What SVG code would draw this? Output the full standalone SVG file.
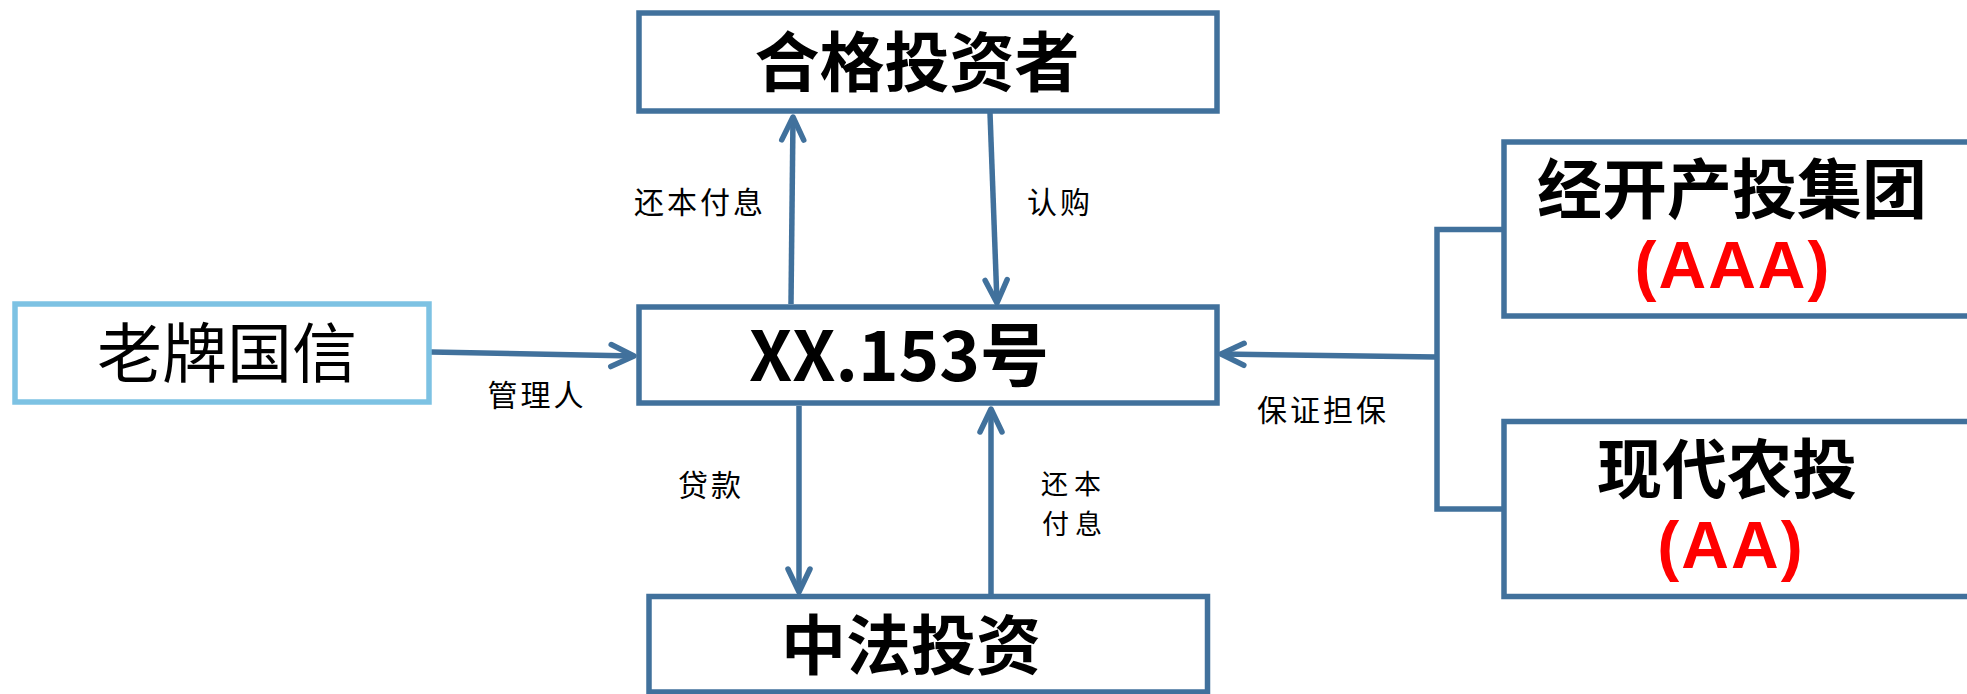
<svg xmlns="http://www.w3.org/2000/svg" width="1967" height="694" viewBox="0 0 1967 694">
<style>
.box{fill:#FFFFFF;stroke:#41719C;stroke-width:5.5}
.lbox{fill:#FFFFFF;stroke:#7DC2E3;stroke-width:5.5}
.big{font-family:"Noto Sans CJK SC","Noto Sans",sans-serif;font-weight:700;font-size:65px;fill:#000000;text-anchor:middle;dominant-baseline:central}
.reg{font-family:"Noto Sans CJK SC","Noto Sans",sans-serif;font-weight:400;font-size:65px;fill:#000000;text-anchor:middle;dominant-baseline:central}
.red{font-family:"Liberation Sans",Arial,sans-serif;font-weight:700;font-size:66px;fill:#FF0000;text-anchor:middle}
.lab{font-family:"Noto Sans CJK SC","Noto Sans",sans-serif;font-weight:400;font-size:30px;fill:#000000;text-anchor:middle;dominant-baseline:central;letter-spacing:3px}
.con{fill:none;stroke:#41719C;stroke-width:5.5}
</style>
<defs>
<marker id="arr" markerUnits="userSpaceOnUse" viewBox="-30 -15 34 30" refX="0" refY="0" markerWidth="34" markerHeight="30" orient="auto" overflow="visible">
<path d="M-23,-11 L0,0 L-23,11" fill="none" stroke="#41719C" stroke-width="5.5" stroke-linecap="round" stroke-linejoin="round"/>
</marker>
</defs>
<g id="connectors">
<line class="con" x1="431" y1="352" x2="634" y2="356" marker-end="url(#arr)" stroke-width="6.5"/>
<line class="con" x1="1437" y1="357" x2="1221" y2="354" marker-end="url(#arr)"/>
<line class="con" x1="791" y1="304" x2="793" y2="117" marker-end="url(#arr)"/>
<line class="con" x1="990" y1="113" x2="997" y2="303" marker-end="url(#arr)"/>
<line class="con" x1="799" y1="406" x2="799" y2="592" marker-end="url(#arr)"/>
<line class="con" x1="991" y1="594" x2="991" y2="409" marker-end="url(#arr)"/>
<path class="con" d="M1504,229.5 H1437 V509 H1504"/>
<text class="lab" x="700" y="200">还本付息</text>
<text class="lab" x="1060" y="200">认购</text>
<text class="lab" x="537" y="393">管理人</text>
<text class="lab" x="1323" y="408">保证担保</text>
<text class="lab" x="711" y="483">贷款</text>
<text class="lab" x="1074" y="482" style="font-size:27px;letter-spacing:6px">还本<tspan x="1075" dy="40">付息</tspan></text>
</g>
<g id="node-investors">
<rect class="box" x="639" y="13" width="578" height="98"/>
<text class="big" x="917" y="58">合格投资者</text>
</g>
<g id="node-manager">
<rect class="lbox" x="15" y="304" width="414" height="98"/>
<text class="reg" x="227" y="349">老牌国信</text>
</g>
<g id="node-trust">
<rect class="box" x="639" y="307" width="578" height="96"/>
<text class="big" x="899" y="351" style="font-size:69px">XX.153号</text>
</g>
<g id="node-borrower">
<rect class="box" x="649" y="596.5" width="558.5" height="95.5"/>
<text class="big" x="911" y="641">中法投资</text>
</g>
<g id="node-guarantor1">
<rect class="box" x="1504" y="142" width="500" height="174"/>
<text class="big" x="1732" y="185">经开产投集团</text>
<text class="red" x="1733" y="288" letter-spacing="2">(AAA)</text>
</g>
<g id="node-guarantor2">
<rect class="box" x="1504" y="421.5" width="500" height="175"/>
<text class="big" x="1727" y="465">现代农投</text>
<text class="red" x="1731" y="568" letter-spacing="2">(AA)</text>
</g>
</svg>
